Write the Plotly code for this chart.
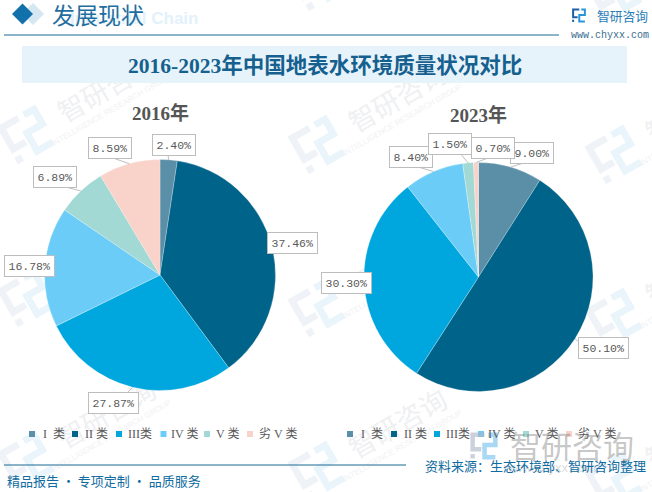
import math
import plotly.graph_objects as go

W, H = 652, 492
categories = ["I\u00a0\u00a0类", "II 类", "III类", "IV 类", "V 类", "劣 V 类"]
values_2016 = [2.40, 37.46, 27.87, 16.78, 6.89, 8.59]
values_2023 = [9.00, 50.10, 30.30, 8.40, 1.50, 0.70]
colors = ["#5B8FA8", "#006389", "#00A6DE", "#6BCDF7", "#A3D9D4", "#F9D2CA"]

# label box centres and leader attachment points (pixels) – layout only
boxes_2016 = [(173.5, 144.5), (292, 243), (113, 403), (29, 265.5), (55.5, 177), (110, 148)]
attach_2016 = [(168, 155), (280, 243), (120, 400), (40, 265), (62, 186), (113, 158)]
boxes_2023 = [(532, 152.5), (603.5, 347.5), (346.5, 283), (410.5, 157), (449.5, 143.5), (492.5, 148.5)]
attach_2023 = [(527, 162), (582, 345), (368, 283), (415, 166), (460, 153), (488, 158)]
pie_l = (160, 275, 115.5)
pie_r = (478.5, 277, 114.5)
legend_x_l = [29, 72, 116, 160.5, 204, 247]
legend_x_r = [347, 391, 434, 478, 523, 566]
legend_gap = [12, 11, 10, 8, 10, 10]

def X(p): return p / W
def Y(p): return 1 - p / H

fig = go.Figure()

def add_pie(vals, geo):
    cx, cy, r = geo
    fig.add_trace(go.Pie(
        labels=categories, values=vals, sort=False, direction="clockwise", rotation=0,
        marker=dict(colors=colors, line=dict(color="rgba(255,255,255,0.5)", width=0.5)),
        textinfo="none", hoverinfo="label+percent", showlegend=False,
        domain=dict(x=[X(cx - r), X(cx + r)], y=[Y(cy + r), Y(cy - r)]),
    ))

add_pie(values_2016, pie_l)
add_pie(values_2023, pie_r)

shapes = []
annos = []
SERIF = "Liberation Serif, Noto Sans CJK SC"
SANS = "Noto Sans CJK SC"

def text(x, y, t, size, color, family=SANS, bold=False, anchor="left", angle=0):
    annos.append(dict(x=X(x), y=Y(y), xref="paper", yref="paper", text=f"<b>{t}</b>" if bold else t,
                      showarrow=False, xanchor=anchor, yanchor="middle", textangle=angle,
                      font=dict(size=size, color=color, family=family)))

def under_text(x, y, t, size, color, family=SANS, angle=-30):
    # text carried by a shape so that it stays underneath the pies
    shapes.append(dict(type="rect", xref="paper", yref="paper", layer="below",
                       x0=X(x - 1), x1=X(x + 1), y0=Y(y + 1), y1=Y(y - 1),
                       fillcolor="rgba(0,0,0,0)", line=dict(width=0),
                       label=dict(text=t, textangle=angle, textposition="middle center",
                                  xanchor="center", yanchor="middle", padding=0,
                                  font=dict(size=size, color=color, family=family))))

def rect(x0, y0, x1, y1, color, layer="below"):
    shapes.append(dict(type="rect", xref="paper", yref="paper", x0=X(x0), x1=X(x1), y0=Y(y1), y1=Y(y0),
                       fillcolor=color, line=dict(width=0), layer=layer))

def line(x0, y0, x1, y1, color, w=1, layer="below"):
    shapes.append(dict(type="line", xref="paper", yref="paper", x0=X(x0), x1=X(x1), y0=Y(y0), y1=Y(y1),
                       line=dict(color=color, width=w), layer=layer))

def diamond(cx, cy, h, color):
    shapes.append(dict(type="path", xref="paper", yref="paper", layer="below", line=dict(width=0), fillcolor=color,
                       path=f"M {X(cx)},{Y(cy - h)} L {X(cx + h)},{Y(cy)} L {X(cx)},{Y(cy + h)} L {X(cx - h)},{Y(cy)} Z"))

def logo(cx, cy, s, c1, c2, w, angle=0, layer="below"):
    ca, sa = math.cos(math.radians(angle)), math.sin(math.radians(angle))
    def path(pts, col):
        out = []
        for a, b in pts:
            dx, dy = (a - 0.5) * s, (b - 0.5) * s
            out.append(f"{X(cx + dx * ca + dy * sa)},{Y(cy - dx * sa + dy * ca)}")
        shapes.append(dict(type="path", xref="paper", yref="paper", path="M " + " L ".join(out),
                           line=dict(color=col, width=w), layer=layer))
    path([(0.40, 0.62), (0.08, 0.62), (0.08, 0.08), (0.52, 0.08)], c1)
    path([(0.08, 0.80), (0.08, 0.96)], c1)
    path([(0.66, 0.08), (0.92, 0.08), (0.92, 0.46), (0.52, 0.46), (0.52, 0.92), (0.92, 0.92)], c2)

# background watermark tiles
wm_text = "#EFF0F2"
wm_sub = "#F1F2F4"
for row in (-163, 0, 163, 326):
    for lx, ly in [(27, 135), (318, 145), (615, 155)]:
        ly += row
        logo(lx, ly, 45, "#EFF3F7", "#E9F5FB", 7, angle=30)
        tx, ty = lx + 81, ly - 45
        if -20 < ty < H + 20 and tx < W + 60:
            under_text(tx, ty, "智研咨询", 27, wm_text)
            under_text(tx + 3, ty + 19, "INTELLIGENCE RESEARCH GROUP", 8, wm_sub, family="Liberation Sans")

# header
text(200, 19, "Industrial Chain", 17, "#E3F1FB", family="Liberation Sans", bold=True, anchor="right")
diamond(33, 14, 11, "#D5E7F2")
diamond(22.5, 14, 10.5, "#1270AB")
text(50, 14, "发展现状", 23, "#1F6E9F")
line(4, 35, 559, 35, "#1B6A93", 1.2)
rect(22, 46, 627, 83, "#E6F3FB")
text(324.5, 66, "2016-2023年中国地表水环境质量状况对比", 21.5, "#15608E", family=SERIF, bold=True, anchor="center")
logo(579, 15.5, 14, "#1D5FA8", "#2A95D8", 2)
text(595, 15, "智研咨询", 12.75, "#2A7DB8")
text(569, 35, "www.chyxx.com", 10, "#3A6E90", family="Liberation Mono")

# pie titles
text(160, 113, "2016年", 19, "#555555", family=SERIF, bold=True, anchor="center")
text(478, 115, "2023年", 19, "#555555", family=SERIF, bold=True, anchor="center")

# data labels with leader lines
def labels(vals, geo, boxes, attach):
    cx, cy, r = geo
    total = sum(vals)
    cum = 0
    for v, (bx, by), (ax, ay) in zip(vals, boxes, attach):
        mid = (cum + v / 2) / total * 2 * math.pi
        cum += v
        ex, ey = cx + r * math.sin(mid), cy - r * math.cos(mid)
        line(ex, ey, ax, ay, "#BFBFBF", 1, layer="above")
        annos.append(dict(x=X(bx), y=Y(by), xref="paper", yref="paper", text=f"{v:.2f}%", showarrow=False,
                          xanchor="center", yanchor="middle", bgcolor="#FFFFFF", bordercolor="#BDBDBD",
                          borderwidth=1, borderpad=3.5,
                          font=dict(size=11.5, color="#595959", family="Liberation Mono")))

labels(values_2016, pie_l, boxes_2016, attach_2016)
labels(values_2023, pie_r, boxes_2023, attach_2023)

# legends
def legend(xs):
    for x, g, c, name in zip(xs, legend_gap, colors, categories):
        rect(x, 431, x + 6, 437, c, layer="above")
        text(x + g, 434, name, 12, "#595959", family=SERIF)

legend(legend_x_l)
legend(legend_x_r)

# footer
line(4, 465, 406, 465, "#1B6A93", 1.2)
under_text(550, 466, "www.chyxx.com", 13, "rgba(130,130,130,0.30)", family="Liberation Sans", angle=0)
text(5, 480, "精品报告 · 专项定制 · 品质服务", 13, "#0F6BA0")
text(423, 465, "资料来源：生态环境部、智研咨询整理", 13, "#0F6BA0")

# bottom-right big watermark
logo(484, 446, 27, "rgba(170,180,195,0.6)", "rgba(110,190,235,0.6)", 4.5, layer="above")
text(508, 444, "智研咨询", 31, "rgba(110,110,110,0.40)")

fig.update_layout(
    width=W, height=H, margin=dict(l=0, r=0, t=0, b=0),
    paper_bgcolor="#FFFFFF", plot_bgcolor="#FFFFFF",
    shapes=shapes, annotations=annos, showlegend=False,
)
fig.write_html("out.html", config={"displayModeBar": False},
               post_script="document.body.style.margin='0';document.body.style.overflow='hidden';")
